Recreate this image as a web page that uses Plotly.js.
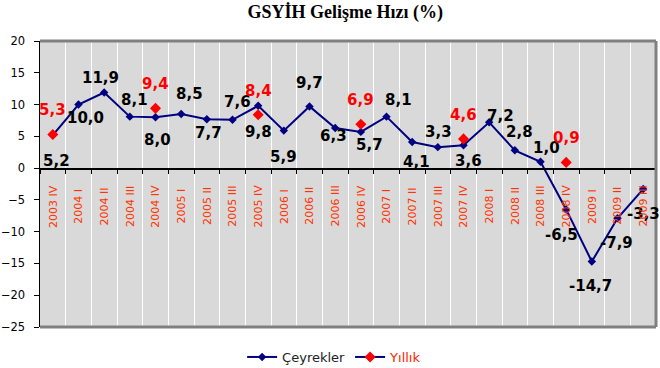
<!DOCTYPE html>
<html>
<head>
<meta charset="utf-8">
<script src="https://cdn.plot.ly/plotly-3.0.1.min.js"></script>
<style>html,body{margin:0;padding:0;background:#fff;}#chart{width:660px;height:368px;}</style>
</head>
<body>
<div id="chart"></div>
<script>
// ---- data ----
const categories = ['2003 IV','2004 I','2004 II','2004 III','2004 IV','2005 I','2005 II','2005 III','2005 IV','2006 I','2006 II','2006 III','2006 IV','2007 I','2007 II','2007 III','2007 IV','2008 I','2008 II','2008 III','2008 IV','2009 I','2009 II','2009 III'];
const quarterly = [5.2,10.0,11.9,8.1,8.0,8.5,7.7,7.6,9.8,5.9,9.7,6.3,5.7,8.1,4.1,3.3,3.6,7.2,2.8,1.0,-6.5,-14.7,-7.9,-3.3];
const annual = [5.3,null,null,null,9.4,null,null,null,8.4,null,null,null,6.9,null,null,null,4.6,null,null,null,0.9,null,null,null];
const seriesNames = ['Çeyrekler','Yıllık'];
const titleText = 'GSYİH Gelişme Hızı (%)';

// ---- label placement (pixels, style only) ----
const quarterlyLabelShift = [[4,-26],[7,-13],[-4,14],[5,17],[2,-23],[8,20],[2,-14],[5,18],[0,-26],[0,-26],[0,23],[-2,-8],[9,-13],[12,17],[4,-20],[1,15],[5,-16],[11,6],[5,18],[6,14],[-5,-26],[-1,-24],[-1,-25],[0,-25]];
const annualLabelShift = 24;
const catLabelY = -6;

const fmt = v => v.toFixed(1).replace('.', ',');

const traces = [
  {x: categories, y: quarterly, type: 'scatter', mode: 'lines+markers', name: seriesNames[0],
   line: {color: '#000080', width: 2}, marker: {symbol: 'diamond', size: 6.5, color: '#000080'}},
  {x: categories, y: annual, type: 'scatter', mode: 'lines+markers', connectgaps: false,
   name: '<span style="color:#FF2200">' + seriesNames[1] + '</span>',
   line: {color: '#000080', width: 2}, marker: {symbol: 'diamond', size: 8.5, color: '#FF0000'}}
];

const annotations = [];
quarterly.forEach((v, i) => {
  annotations.push({x: categories[i], y: v, xref: 'x', yref: 'y', text: fmt(v), showarrow: false,
    xshift: quarterlyLabelShift[i][0], yshift: quarterlyLabelShift[i][1],
    font: {family: 'DejaVu Sans', size: 15, color: '#000', weight: 'bold'}});
});
annual.forEach((v, i) => {
  if (v === null) return;
  annotations.push({x: categories[i], y: v, xref: 'x', yref: 'y', text: fmt(v), showarrow: false,
    yshift: annualLabelShift,
    font: {family: 'DejaVu Sans', size: 15, color: '#FF0000', weight: 'bold'}});
});
categories.forEach((c, i) => {
  annotations.push({x: c, y: catLabelY, xref: 'x', yref: 'y', text: c, showarrow: false, textangle: -90,
    xanchor: 'center', yanchor: 'middle',
    font: {family: 'DejaVu Sans', size: 11, color: '#FF3300'}});
});

const layout = {
  width: 660, height: 368,
  margin: {l: 40, r: 4, t: 41, b: 41, pad: 0},
  paper_bgcolor: '#ffffff', plot_bgcolor: '#d9d9d9',
  title: {text: titleText, x: 0.523, xanchor: 'center', y: 1 - 12/368, yanchor: 'middle', yref: 'container',
    font: {family: 'Liberation Serif', size: 18, color: '#000', weight: 'bold'}},
  xaxis: {type: 'category', anchor: 'free', position: 25/45, range: [-0.5, 23.5],
    showline: true, linecolor: '#000', linewidth: 1.5,
    ticks: 'outside', ticklen: 4, tickcolor: '#000', tickson: 'boundaries',
    showgrid: true, gridcolor: '#ffffff', gridwidth: 1,
    showticklabels: false, zeroline: false, fixedrange: true},
  yaxis: {range: [-25, 20], dtick: 5, tick0: 0, showline: true, linecolor: '#000', linewidth: 1.5,
    ticks: 'outside', ticklen: 5, tickcolor: '#000', showgrid: false, zeroline: false,
    ticklabelstandoff: 6,
    tickfont: {family: 'DejaVu Sans', size: 11.5, color: '#000'}, fixedrange: true},
  showlegend: true,
  legend: {orientation: 'h', xref: 'container', yref: 'container', x: 0.507, xanchor: 'center',
    y: 1 - 357/368, yanchor: 'middle', font: {family: 'DejaVu Sans', size: 13, color: '#222'},
    bgcolor: 'rgba(0,0,0,0)', itemsizing: 'trace'},
  annotations: annotations,
  shapes: [
    {type: 'line', xref: 'paper', yref: 'paper', x0: 0, x1: 1, y0: 1, y1: 1, line: {color: '#808080', width: 3}, layer: 'above'},
    {type: 'line', xref: 'paper', yref: 'paper', x0: 1, x1: 1, y0: 0, y1: 1, line: {color: '#808080', width: 3}, layer: 'above'},
    {type: 'line', xref: 'paper', yref: 'paper', x0: 0, x1: 1, y0: 0, y1: 0, line: {color: '#808080', width: 3}, layer: 'above'}
  ]
};

Plotly.newPlot('chart', traces, layout, {staticPlot: true, displayModeBar: false});
</script>
</body>
</html>
